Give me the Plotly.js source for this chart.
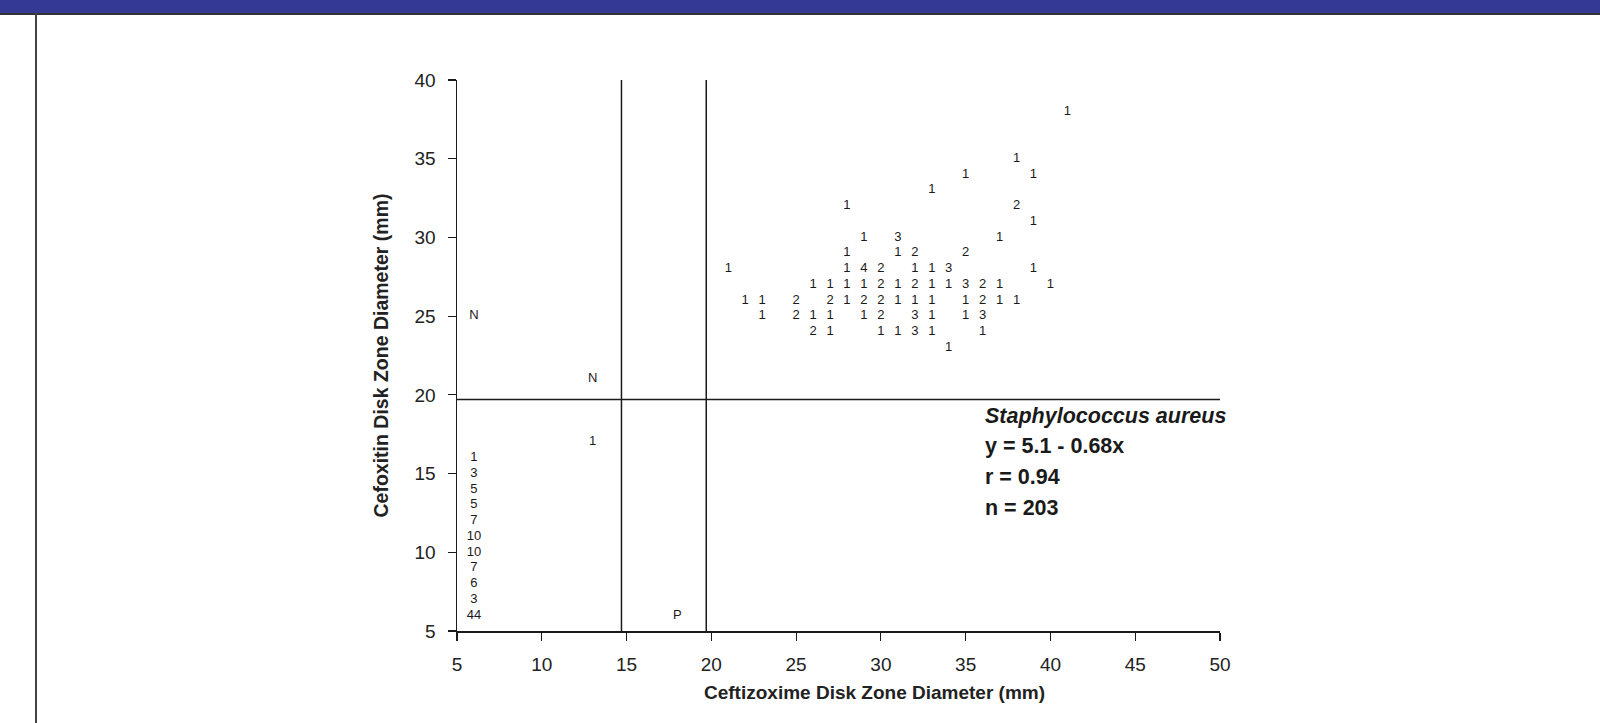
<!DOCTYPE html>
<html>
<head>
<meta charset="utf-8">
<script src="https://cdn.plot.ly/plotly-3.0.1.min.js"></script>
<style>
  html, body { margin: 0; padding: 0; background: #ffffff; }
  #wrap { position: relative; width: 1600px; height: 723px; overflow: hidden; }
  #band { position: absolute; left: 0; top: 0; width: 1600px; height: 13px; background: #343996; border-bottom: 2px solid #333333; z-index: 2; }
  #edge { position: absolute; left: 35px; top: 13px; width: 2px; height: 710px; background: #444444; z-index: 2; }
  #chart { position: absolute; left: 0; top: 0; width: 1600px; height: 723px; }
</style>
</head>
<body>
<div id="wrap">
  <div id="chart"></div>
  <div id="band"></div>
  <div id="edge"></div>
</div>
<script>
// Ceftizoxime zone diameter (x, mm)
var xVals = [
  41,
  38,
  35, 39,
  33,
  28, 38,
  39,
  29, 31, 37,
  28, 31, 32, 35,
  21, 28, 29, 30, 32, 33, 34, 39,
  26, 27, 28, 29, 30, 31, 32, 33, 34, 35, 36, 37, 40,
  22, 23, 25, 27, 28, 29, 30, 31, 32, 33, 35, 36, 37, 38,
  23, 25, 26, 27, 29, 30, 32, 33, 35, 36,
  26, 27, 30, 31, 32, 33, 36,
  34,
  13,
  6, 6, 6, 6, 6, 6, 6, 6, 6, 6, 6
];
// Cefoxitin zone diameter (y, mm)
var yVals = [
  38,
  35,
  34, 34,
  33,
  32, 32,
  31,
  30, 30, 30,
  29, 29, 29, 29,
  28, 28, 28, 28, 28, 28, 28, 28,
  27, 27, 27, 27, 27, 27, 27, 27, 27, 27, 27, 27, 27,
  26, 26, 26, 26, 26, 26, 26, 26, 26, 26, 26, 26, 26, 26,
  25, 25, 25, 25, 25, 25, 25, 25, 25, 25,
  24, 24, 24, 24, 24, 24, 24,
  23,
  17,
  16, 15, 14, 13, 12, 11, 10, 9, 8, 7, 6
];
// Number of isolates at each point
var counts = [
  "1",
  "1",
  "1", "1",
  "1",
  "1", "2",
  "1",
  "1", "3", "1",
  "1", "1", "2", "2",
  "1", "1", "4", "2", "1", "1", "3", "1",
  "1", "1", "1", "1", "2", "1", "2", "1", "1", "3", "2", "1", "1",
  "1", "1", "2", "2", "1", "2", "2", "1", "1", "1", "1", "2", "1", "1",
  "1", "2", "1", "1", "1", "2", "3", "1", "1", "3",
  "2", "1", "1", "1", "3", "1", "1",
  "1",
  "1",
  "1", "3", "5", "5", "7", "10", "10", "7", "6", "3", "44"
];
// Interpretive category markers
var markerX = [6, 13, 18];
var markerY = [25, 21, 6];
var markerLabels = ["N", "N", "P"];
// Breakpoints
var xBreaks = [14.7, 19.7];
var yBreaks = [19.7];
var xTicks = [5, 10, 15, 20, 25, 30, 35, 40, 45, 50];
var yTicks = [5, 10, 15, 20, 25, 30, 35, 40];
var xTitle = "Ceftizoxime Disk Zone Diameter (mm)";
var yTitle = "Cefoxitin Disk Zone Diameter (mm)";
var statLines = ["<i>Staphylococcus aureus</i>", "y = 5.1 - 0.68x", "r = 0.94", "n = 203"];

var FONT = "Liberation Sans, Arial, Helvetica, sans-serif";

var traces = [
  {
    x: xVals, y: yVals, text: counts, mode: "text", type: "scatter",
    textposition: "middle center",
    textfont: { family: FONT, size: 13, color: "#1a1a1a" },
    hoverinfo: "x+y+text", showlegend: false, cliponaxis: false
  },
  {
    x: markerX, y: markerY, text: markerLabels, mode: "text", type: "scatter",
    textposition: "middle center",
    textfont: { family: FONT, size: 13, color: "#1a1a1a" },
    hoverinfo: "text", showlegend: false, cliponaxis: false
  }
];

var shapes = [];
xBreaks.forEach(function (b) {
  shapes.push({ type: "line", xref: "x", yref: "y", x0: b, x1: b, y0: 5, y1: 40.3,
    line: { color: "#1a1a1a", width: 1.5 } });
});
yBreaks.forEach(function (b) {
  shapes.push({ type: "line", xref: "x", yref: "y", x0: 5, x1: 50, y0: b, y1: b,
    line: { color: "#1a1a1a", width: 1.5 } });
});

var annotations = statLines.map(function (t, i) {
  return {
    xref: "paper", yref: "paper", x: 0.689, y: 0.391 - i * 0.0557,
    xanchor: "left", yanchor: "middle", showarrow: false, text: "<b>" + t + "</b>",
    font: { family: FONT, size: 21.5, color: "#1a1a1a" }, align: "left"
  };
});
annotations.push({
  xref: "paper", yref: "paper", x: 0.547, y: -0.112,
  xanchor: "center", yanchor: "middle", showarrow: false, text: "<b>" + xTitle + "</b>",
  font: { family: FONT, size: 19, color: "#222222" }
});

var layout = {
  width: 1600, height: 723,
  paper_bgcolor: "rgba(0,0,0,0)", plot_bgcolor: "#ffffff",
  margin: { l: 457, r: 380, t: 80, b: 92 },
  xaxis: {
    range: [5, 50], tickvals: xTicks, ticktext: xTicks.map(String),
    showgrid: false, zeroline: false, showline: true, linecolor: "#1a1a1a", linewidth: 1.5,
    ticks: "outside", ticklen: 8, tickwidth: 1.2, tickcolor: "#1a1a1a",
    ticklabelstandoff: 8,
    tickfont: { family: FONT, size: 19, color: "#222222" }
  },
  yaxis: {
    range: [5, 40], tickvals: yTicks, ticktext: yTicks.map(String),
    showgrid: false, zeroline: false, showline: true, linecolor: "#1a1a1a", linewidth: 1.5,
    ticks: "outside", ticklen: 8, tickwidth: 1.2, tickcolor: "#1a1a1a",
    ticklabelstandoff: 8,
    tickfont: { family: FONT, size: 19, color: "#222222" },
    title: { text: "<b>" + yTitle + "</b>", standoff: 20,
      font: { family: FONT, size: 19.5, color: "#222222" } }
  },
  shapes: shapes,
  annotations: annotations,
  showlegend: false
};

Plotly.newPlot("chart", traces, layout, { displayModeBar: false, staticPlot: true });
</script>
</body>
</html>
